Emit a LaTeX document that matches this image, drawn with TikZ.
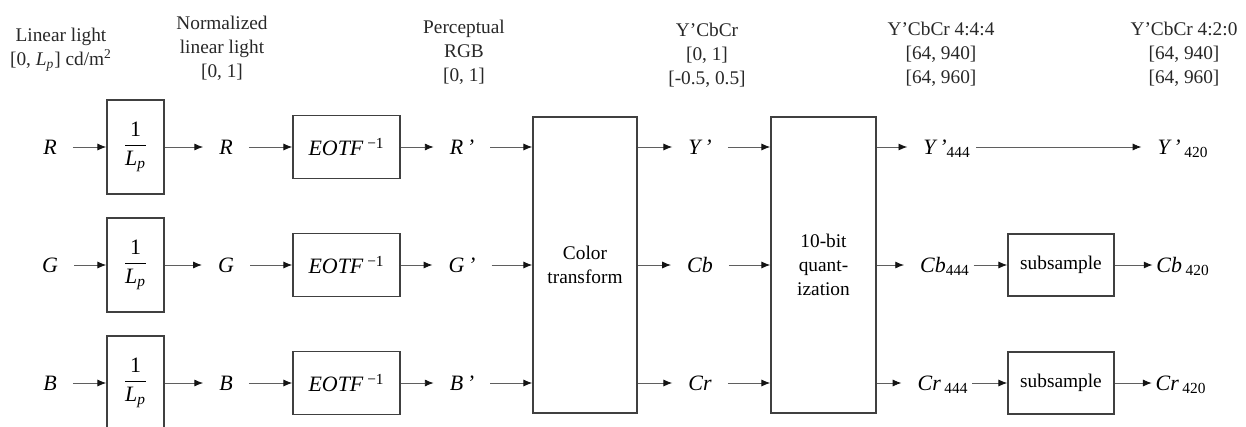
\documentclass[tikz,border=0pt]{standalone}
\usepackage{amsmath}
\usepackage{fontspec}
\setmainfont{Liberation Serif}
\usepackage{tikz}
\usetikzlibrary{arrows.meta, positioning}
\definecolor{Borde}{RGB}{64, 64, 64}
\definecolor{Cable}{RGB}{95, 95, 95}
\definecolor{Punta}{RGB}{20, 20, 20}
\definecolor{Tinta}{RGB}{40, 40, 40}

\begin{document}
\begin{tikzpicture}[
        x=0.02cm, y=-0.02cm,
        block/.style={
            rectangle,
            draw=Borde,
            line width=0.9pt,
            inner sep=0pt,
            align=center,
            font=\fontsize{11}{13.6}\selectfont
        },
        arrow/.style={
            ->,
            >={Latex[length=5pt, width=4pt, color=Punta]},
            line width=0.5pt,
            draw=Cable
        },
        txt/.style={
            align=center,
            inner sep=0pt,
            text=Tinta,
            font=\fontsize{11}{13.6}\selectfont
        },
        sig/.style={
            inner xsep=9pt,
            inner ysep=0pt,
            text height=8.5pt,
            text depth=0pt,
            font=\fontsize{12.5}{15}\selectfont\itshape
        },
        normbox/.style={block, minimum width=1.14cm, minimum height=1.88cm, font=\fontsize{12.5}{15}\selectfont},
        eotfbox/.style={block, minimum width=2.14cm, minimum height=1.26cm, font=\fontsize{12.5}{15}\selectfont},
        subbox/.style={block, minimum width=2.12cm, minimum height=1.24cm}
    ]
        \clip (0, 0) rectangle (1246, 426);

        % Column labels
        \node[txt] (lin) at (61, 50) {Linear light\\{}[0, \textit{L}\textsubscript{\textit{p}}] cd/m\textsuperscript{2}};
        \node[txt] (norm) at (222, 48) {Normalized\\linear light\\{}[0, 1]};
        \node[txt] (perc) at (464, 52) {Perceptual\\RGB\\{}[0, 1]};
        \node[txt] (ycc) at (707, 55) {Y'CbCr\\{}[0, 1]\\{}[-0.5, 0.5]};
        \node[txt] (ycc444) at (941, 54) {Y'CbCr 4:4:4\\{}[64, 940]\\{}[64, 960]};
        \node[txt] (ycc420) at (1184, 54) {Y'CbCr 4:2:0\\{}[64, 940]\\{}[64, 960]};

        % Nodes, R row
        \node[sig] (inR) at (50, 147) {R};
        \node[normbox] (scR) at (135.5, 147) {$\displaystyle\frac{\textup{1}}{\textit{L}_{\textit{p}}}$};
        \node[sig] (nR) at (226, 147) {R};
        \node[eotfbox] (eotfR) at (346.5, 147) {\textit{EOTF}\,\textsuperscript{−1}};
        \node[sig] (pR) at (462, 147) {R\,'};

        % Nodes, G row
        \node[sig] (inG) at (50, 265) {G};
        \node[normbox] (scG) at (135.5, 265) {$\displaystyle\frac{\textup{1}}{\textit{L}_{\textit{p}}}$};
        \node[sig] (nG) at (226, 265) {G};
        \node[eotfbox] (eotfG) at (346.5, 265) {\textit{EOTF}\,\textsuperscript{−1}};
        \node[sig] (pG) at (462, 265) {G\,'};

        % Nodes, B row
        \node[sig] (inB) at (50, 383) {B};
        \node[normbox] (scB) at (135.5, 383) {$\displaystyle\frac{\textup{1}}{\textit{L}_{\textit{p}}}$};
        \node[sig] (nB) at (226, 383) {B};
        \node[eotfbox] (eotfB) at (346.5, 383) {\textit{EOTF}\,\textsuperscript{−1}};
        \node[sig] (pB) at (462, 383) {B\,'};

        % Nodes, shared blocks
        \node[block, minimum width=2.08cm, minimum height=5.92cm] (ct) at (585, 265) {Color\\transform};
        \node[sig] (yY) at (700, 147) {Y\,'};
        \node[sig] (yCb) at (700, 265) {Cb};
        \node[sig] (yCr) at (700, 383) {Cr};
        \node[block, minimum width=2.1cm, minimum height=5.92cm] (q) at (823.5, 265) {10-bit\\quant-\\ization};
        \node[sig] (qY) at (947, 147) {Y\,'\textsubscript{\upshape 444}};
        \node[sig] (qCb) at (945, 265) {Cb\textsubscript{\upshape 444}};
        \node[sig] (qCr) at (943, 383) {Cr\,\textsubscript{\upshape 444}};
        \node[subbox] (sCb) at (1061, 265) {subsample};
        \node[subbox] (sCr) at (1061, 383) {subsample};
        \node[sig] (oY) at (1183, 147) {Y\,'\,\textsubscript{\upshape 420}};
        \node[sig, inner xsep=2pt] (oCb) at (1183, 265) {Cb\,\textsubscript{\upshape 420}};
        \node[sig, inner xsep=2pt] (oCr) at (1181, 383) {Cr\,\textsubscript{\upshape 420}};

        % Paths
        \draw[arrow] (inR) -- (scR);
        \draw[arrow] (scR) -- (nR);
        \draw[arrow] (nR) -- (eotfR);
        \draw[arrow] (eotfR) -- (pR);
        \draw[arrow] (pR) -- (pR -| ct.west);
        \draw[arrow] (inG) -- (scG);
        \draw[arrow] (scG) -- (nG);
        \draw[arrow] (nG) -- (eotfG);
        \draw[arrow] (eotfG) -- (pG);
        \draw[arrow] (pG) -- (pG -| ct.west);
        \draw[arrow] (inB) -- (scB);
        \draw[arrow] (scB) -- (nB);
        \draw[arrow] (nB) -- (eotfB);
        \draw[arrow] (eotfB) -- (pB);
        \draw[arrow] (pB) -- (pB -| ct.west);

        \draw[arrow] (ct.east |- yY) -- (yY);
        \draw[arrow] (ct.east |- yCb) -- (yCb);
        \draw[arrow] (ct.east |- yCr) -- (yCr);
        \draw[arrow] (yY) -- (yY -| q.west);
        \draw[arrow] (yCb) -- (yCb -| q.west);
        \draw[arrow] (yCr) -- (yCr -| q.west);
        \draw[arrow] (q.east |- qY) -- (qY);
        \draw[arrow] (q.east |- qCb) -- (qCb);
        \draw[arrow] (q.east |- qCr) -- (qCr);

        \draw[arrow, shorten <=-6pt] (qY) -- (oY);
        \draw[arrow, shorten <=-7pt] (qCb) -- (sCb);
        \draw[arrow, shorten <=-7pt] (qCr) -- (sCr);
        \draw[arrow] (sCb) -- (oCb);
        \draw[arrow] (sCr) -- (oCr);
    \end{tikzpicture}
\end{document}
